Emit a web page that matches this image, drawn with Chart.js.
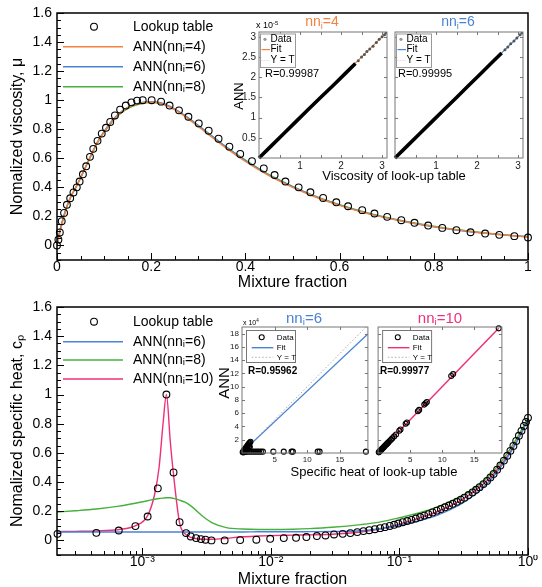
<!DOCTYPE html>
<html>
<head>
<meta charset="utf-8">
<script src="https://cdn.jsdelivr.net/npm/chart.js@4.4.1/dist/chart.umd.min.js"></script>
<style>
  body { margin: 0; background: #fff; }
  #page { position: relative; width: 542px; height: 587px; overflow: hidden; background: #fff;
          font-family: "Liberation Sans", Arial, sans-serif; }
  #page canvas { position: absolute; }
  .note { position: absolute; white-space: nowrap; line-height: 1; color: #000; }
  .note sub { font-size: 65%; vertical-align: -0.3em; line-height: 0; }
  .note sup { font-size: 65%; vertical-align: 0.5em; line-height: 0; }
  .c { transform: translate(-50%, -50%); }
  .l { transform: translateY(-50%); }
  .rot { transform: translate(-50%, -50%) rotate(-90deg); }
</style>
</head>
<body>
<div id="page">
  <canvas id="viscChart" width="542" height="295" style="left:0;top:0"></canvas>
  <canvas id="cpChart" width="542" height="294" style="left:0;top:295px"></canvas>
  <canvas id="viscFit4" width="166" height="163" style="left:225px;top:13px"></canvas>
  <canvas id="viscFit6" width="140" height="163" style="left:391px;top:13px"></canvas>
  <canvas id="cpFit6" width="163" height="160" style="left:210px;top:307px"></canvas>
  <canvas id="cpFit10" width="134" height="160" style="left:373px;top:307px"></canvas>

  <!-- inset annotations, top -->
  <div class="note c" style="left:322px;top:21px;font-size:14px;color:#f4823c">nn<sub>i</sub>=4</div>
  <div class="note c" style="left:458px;top:21px;font-size:14px;color:#4a83d4">nn<sub>i</sub>=6</div>
  <div class="note l" style="left:256px;top:25px;font-size:9px">x 10<sup>-5</sup></div>
  <div class="note rot" style="left:238px;top:96px;font-size:13px">ANN</div>
  <div class="note l" style="left:265px;top:73px;font-size:11px">R=0.99987</div>
  <div class="note l" style="left:398px;top:73px;font-size:11px">R=0.99995</div>
  <div class="note c" style="left:394px;top:175px;font-size:13px">Viscosity of look-up table</div>

  <!-- inset annotations, bottom -->
  <div class="note c" style="left:304px;top:317px;font-size:15px;color:#4a83d4">nn<sub>i</sub>=6</div>
  <div class="note c" style="left:440px;top:317px;font-size:15px;color:#ef2f78">nn<sub>i</sub>=10</div>
  <div class="note l" style="left:243px;top:322px;font-size:7px">x 10<sup>4</sup></div>
  <div class="note rot" style="left:223px;top:383px;font-size:15px">ANN</div>
  <div class="note l" style="left:248px;top:371px;font-size:10px;font-weight:bold">R=0.95962</div>
  <div class="note l" style="left:380px;top:371px;font-size:10px;font-weight:bold">R=0.99977</div>
  <div class="note c" style="left:374px;top:471px;font-size:13px">Specific heat of look-up table</div>
</div>

<script>
// ---------- top panel: normalized viscosity vs mixture fraction ----------
const viscLookupX = [0, 0.003, 0.006, 0.010, 0.015, 0.021, 0.028, 0.035, 0.042, 0.048, 0.055, 0.062, 0.070, 0.077,
  0.086, 0.095, 0.104, 0.113, 0.123, 0.134, 0.146, 0.158, 0.170, 0.182, 0.201, 0.221, 0.239, 0.259, 0.279, 0.301,
  0.322, 0.343, 0.366, 0.389, 0.414, 0.439, 0.462, 0.485, 0.513, 0.538, 0.565, 0.593, 0.618, 0.648, 0.674, 0.701,
  0.731, 0.759, 0.788, 0.818, 0.848, 0.878, 0.909, 0.939, 0.971, 1.0];
const viscLookupY = [0.0, 0.04, 0.09, 0.167, 0.224, 0.28, 0.325, 0.365, 0.40, 0.44, 0.49, 0.545, 0.61, 0.665,
  0.72, 0.77, 0.81, 0.85, 0.895, 0.935, 0.963, 0.985, 0.997, 1.0, 1.0, 0.99, 0.963, 0.93, 0.886, 0.84,
  0.79, 0.735, 0.68, 0.63, 0.58, 0.53, 0.485, 0.44, 0.40, 0.366, 0.327, 0.297, 0.27, 0.243, 0.22, 0.197,
  0.174, 0.156, 0.137, 0.121, 0.105, 0.091, 0.082, 0.073, 0.064, 0.055];

const viscAnnX = [0, 0.01, 0.02, 0.03, 0.04, 0.05, 0.06, 0.07, 0.08, 0.09, 0.1, 0.12, 0.14, 0.16, 0.18, 0.2, 0.22,
  0.24, 0.26, 0.28, 0.3, 0.32, 0.35, 0.4, 0.45, 0.5, 0.55, 0.6, 0.65, 0.7, 0.75, 0.8, 0.85, 0.9, 0.95, 1.0];
const viscAnn4 = [0.0, 0.14, 0.255, 0.34, 0.40, 0.465, 0.535, 0.605, 0.672, 0.732, 0.782, 0.866, 0.926, 0.962, 0.981,
  0.987, 0.978, 0.953, 0.914, 0.868, 0.818, 0.768, 0.692, 0.578, 0.48, 0.40, 0.332, 0.276, 0.228, 0.19, 0.157,
  0.13, 0.107, 0.088, 0.072, 0.058];
const viscAnn6 = [0.01, 0.15, 0.26, 0.34, 0.40, 0.465, 0.535, 0.605, 0.675, 0.735, 0.785, 0.87, 0.93, 0.966, 0.985,
  0.99, 0.982, 0.958, 0.92, 0.875, 0.826, 0.776, 0.70, 0.585, 0.485, 0.405, 0.335, 0.278, 0.229, 0.19, 0.156,
  0.128, 0.105, 0.087, 0.072, 0.06];
const viscAnn8 = [0.02, 0.15, 0.26, 0.34, 0.40, 0.465, 0.535, 0.603, 0.67, 0.73, 0.78, 0.862, 0.922, 0.958, 0.977,
  0.983, 0.976, 0.953, 0.917, 0.873, 0.825, 0.776, 0.70, 0.587, 0.487, 0.407, 0.337, 0.28, 0.232, 0.193, 0.16,
  0.132, 0.108, 0.089, 0.073, 0.06];

const viscXTicks = [0, 0.2, 0.4, 0.6, 0.8, 1];
const viscXLabels = ['0', '0.2', '0.4', '0.6', '0.8', '1'];
const normYTicks = [0, 0.2, 0.4, 0.6, 0.8, 1, 1.2, 1.4, 1.6];
const normYLabels = ['0', '0.2', '0.4', '0.6', '0.8', '1', '1.2', '1.4', '1.6'];

// ---------- bottom panel: normalized specific heat vs mixture fraction (log x) ----------
const cpLookupX = [2.19e-4, 4.39e-4, 6.56e-4, 8.84e-4, 1.10e-3, 1.32e-3, 1.54e-3, 1.75e-3, 1.95e-3, 2.19e-3,
  2.38e-3, 2.62e-3, 2.86e-3, 3.10e-3, 3.45e-3, 4.37e-3, 5.77e-3, 7.71e-3, 9.88e-3, 0.0126, 0.0157, 0.0189,
  0.0228, 0.0266, 0.031, 0.0362, 0.0415, 0.047, 0.0525, 0.0583, 0.0644, 0.0707, 0.077, 0.084, 0.091, 0.098,
  0.106, 0.115, 0.124, 0.134, 0.145, 0.156, 0.168, 0.181, 0.195, 0.21, 0.226, 0.243, 0.26, 0.28, 0.3, 0.32,
  0.345, 0.37, 0.395, 0.42, 0.45, 0.48, 0.51, 0.54, 0.575, 0.61, 0.65, 0.69, 0.73, 0.77, 0.81, 0.85, 0.89,
  0.93, 0.965, 1.0];
const cpLookupY = [0.045, 0.052, 0.068, 0.098, 0.164, 0.357, 1.0, 0.466, 0.125, 0.05,
  0.027, 0.016, 0.009, 0.005, 0.0, 0.0, 0.002, 0.005, 0.011, 0.016, 0.018, 0.023,
  0.03, 0.034, 0.041, 0.045, 0.05, 0.057, 0.064, 0.07, 0.077, 0.084, 0.091, 0.099, 0.107, 0.116,
  0.125, 0.133, 0.141, 0.15, 0.16, 0.17, 0.18, 0.192, 0.204, 0.215, 0.227, 0.239, 0.251, 0.265, 0.279, 0.293,
  0.311, 0.329, 0.347, 0.365, 0.386, 0.408, 0.432, 0.456, 0.485, 0.513, 0.547, 0.58, 0.614, 0.648, 0.682, 0.717,
  0.751, 0.785, 0.812, 0.84];

const cpAnnX = [2.17e-4, 3e-4, 4.4e-4, 6.6e-4, 8.8e-4, 1.1e-3, 1.25e-3, 1.35e-3, 1.45e-3, 1.54e-3, 1.65e-3,
  1.75e-3, 1.95e-3, 2.15e-3, 2.4e-3, 3e-3, 3.5e-3, 4.5e-3, 6e-3, 8e-3, 0.01, 0.015, 0.02, 0.03, 0.05, 0.07,
  0.1, 0.15, 0.2, 0.3, 0.4, 0.5, 0.6, 0.7, 0.8, 0.9, 1.0];
const cpAnn6 = [0.058, 0.058, 0.058, 0.058, 0.058, 0.058, 0.058, 0.058, 0.058, 0.058, 0.058,
  0.058, 0.058, 0.058, 0.058, 0.058, 0.058, 0.058, 0.058, 0.059, 0.059, 0.059, 0.06, 0.061, 0.066, 0.08,
  0.104, 0.14, 0.175, 0.248, 0.325, 0.405, 0.49, 0.575, 0.66, 0.745, 0.83];
const cpAnn8 = [0.195, 0.203, 0.215, 0.235, 0.255, 0.272, 0.282, 0.287, 0.29, 0.292, 0.292,
  0.288, 0.276, 0.262, 0.235, 0.16, 0.12, 0.088, 0.078, 0.075, 0.075, 0.077, 0.081, 0.09, 0.108, 0.125,
  0.155, 0.195, 0.232, 0.3, 0.37, 0.445, 0.525, 0.605, 0.685, 0.765, 0.84];
const cpAnn10 = [0.06, 0.062, 0.065, 0.075, 0.1, 0.17, 0.32, 0.5, 0.8, 1.0, 0.68,
  0.45, 0.12, 0.045, 0.02, 0.008, 0.008, 0.015, 0.025, 0.03, 0.033, 0.036, 0.038, 0.042, 0.058, 0.078,
  0.112, 0.16, 0.2, 0.275, 0.35, 0.425, 0.505, 0.585, 0.665, 0.745, 0.83];

const cpXMin = 2.17e-4;
const cpXTicks = [1e-3, 1e-2, 1e-1, 1];
const cpXLabels = ['10\u207B\u00B3', '10\u207B\u00B2', '10\u207B\u00B9', '10\u2070'];

// ---------- top insets: ANN vs look-up viscosity (x 1e-5) ----------
const viscBand4T = [0, 0.3, 0.6, 0.9, 1.2, 1.5, 1.8, 2.1, 2.35];
const viscBand4A = [0, 0.3, 0.6, 0.9, 1.2, 1.5, 1.79, 2.09, 2.34];
const viscDots4T = [2.42, 2.5, 2.57, 2.63, 2.7, 2.78, 2.86, 2.93, 3.0, 3.06, 3.1];
const viscDots4A = [2.41, 2.5, 2.56, 2.64, 2.7, 2.77, 2.86, 2.94, 3.0, 3.05, 3.1];
const viscBand6T = [0, 0.3, 0.6, 0.9, 1.2, 1.5, 1.8, 2.1, 2.4, 2.6];
const viscBand6A = [0, 0.3, 0.6, 0.9, 1.2, 1.5, 1.8, 2.1, 2.4, 2.6];
const viscDots6T = [2.68, 2.75, 2.82, 2.9, 2.97, 3.05, 3.1];
const viscDots6A = [2.68, 2.75, 2.83, 2.9, 2.97, 3.05, 3.1];
const viscFitT = [0, 3.12];
const viscFitA = [0, 3.12];
const viscFitXTicks = [0.5, 1, 1.5, 2, 2.5, 3];
const viscFitXLabels = ['', '1', '', '2', '', '3'];
const viscFitYTicks = [0.5, 1, 1.5, 2, 2.5, 3];
const viscFitYLabels = ['0.5', '1', '1.5', '2', '2.5', '3'];

// ---------- bottom insets: ANN vs look-up specific heat (x 1e4) ----------
const cpFit6T = [0.1, 0.2, 0.3, 0.4, 0.5, 0.6, 0.7, 0.8, 0.9, 1.0, 1.1, 1.2, 1.3, 0.3, 0.6, 0.9, 1.2, 0.5, 0.8, 1.1,
  0.2, 0.5, 0.8, 1.1, 1.4, 1.7, 2.0, 2.3, 2.6, 2.9, 3.2, 4.8, 6.4, 7.6, 7.8, 11.6, 11.9, 19.0];
const cpFit6A = [0.1, 0.25, 0.4, 0.5, 0.65, 0.8, 0.9, 1.05, 1.2, 1.3, 1.45, 1.55, 1.7, 0.1, 0.3, 0.6, 0.9, 0.45, 0.7, 1.0,
  0.15, 0.15, 0.2, 0.2, 0.2, 0.2, 0.2, 0.2, 0.2, 0.2, 0.2, 0.2, 0.2, 0.2, 0.2, 0.2, 0.2, 0.2];
const cpLine6T = [0, 19.3];
const cpLine6A = [0.1, 17.95];
const cpFit10T = [0.1, 0.2, 0.3, 0.4, 0.5, 0.6, 0.7, 0.8, 0.9, 1.0, 1.15, 1.3, 1.45, 1.6, 1.8, 2.0, 2.2, 2.5, 2.8,
  3.3, 3.5, 4.3, 4.5, 6.2, 6.4, 7.2, 7.4, 7.6, 11.4, 11.7, 18.8];
const cpFit10A = [0.1, 0.2, 0.3, 0.4, 0.5, 0.6, 0.7, 0.8, 0.9, 1.0, 1.15, 1.3, 1.45, 1.6, 1.8, 2.0, 2.2, 2.5, 2.8,
  3.35, 3.55, 4.4, 4.6, 6.3, 6.5, 7.3, 7.5, 7.7, 11.6, 11.9, 18.8];
const cpLine10T = [0, 18.8];
const cpLine10A = [0, 18.8];
const cpDiagT = [0, 19.3];
const cpDiagA = [0, 19.3];
const cpFitXTicks = [5, 10, 15];
const cpFitXLabels = ['5', '10', '15'];
const cpFitYTicks = [2, 4, 6, 8, 10, 12, 14, 16, 18];
const cpFitYLabels = ['2', '4', '6', '8', '10', '12', '14', '16', '18'];

const ORANGE = '#f4823c';
const BLUE = '#4a83d4';
const GREEN = '#45b03b';
const PINK = '#ef2f78';
const FONT = '"Liberation Sans", Arial, sans-serif';

const pts = (xs, ys) => xs.map((x, i) => ({ x: x, y: ys[i] }));

// minor tick positions (not data, just axis decoration)
function minorSteps(from, to, step, majors) {
  const out = [];
  for (let v = from; v <= to + 1e-9; v += step) {
    const r = Math.round(v * 1000) / 1000;
    if (!majors.some(m => Math.abs(m - r) < 1e-9)) out.push(r);
  }
  return out;
}
const viscXMinor = minorSteps(0, 1, 0.05, viscXTicks);
const normYMinor = minorSteps(-0.1, 1.6, 0.05, normYTicks);
const cpXMinor = [];
[-4, -3, -2, -1].forEach(e => {
  for (let k = 2; k <= 9; k++) {
    const v = k * Math.pow(10, e);
    if (v > cpXMin && v < 1) cpXMinor.push(v);
  }
});

// box around the plot area with inward tick marks
const framePlugin = {
  id: 'frame',
  beforeDraw(chart, args, o) {
    if (!o.fill) return;
    const a = chart.chartArea, ctx = chart.ctx;
    ctx.save();
    ctx.fillStyle = o.fill;
    ctx.fillRect(a.left, a.top, a.right - a.left, a.bottom - a.top);
    ctx.restore();
  },
  afterDraw(chart, args, o) {
    const a = chart.chartArea, ctx = chart.ctx;
    const xs = chart.scales.x, ys = chart.scales.y;
    ctx.save();
    ctx.strokeStyle = o.color;
    ctx.lineWidth = o.tickWidth;
    ctx.beginPath();
    const xMark = (v, len) => {
      const p = Math.round(xs.getPixelForValue(v)) + 0.5;
      ctx.moveTo(p, a.bottom); ctx.lineTo(p, a.bottom - len);
      if (o.mirror) { ctx.moveTo(p, a.top); ctx.lineTo(p, a.top + len); }
    };
    const yMark = (v, len) => {
      const p = Math.round(ys.getPixelForValue(v)) + 0.5;
      ctx.moveTo(a.left, p); ctx.lineTo(a.left + len, p);
      if (o.mirror) { ctx.moveTo(a.right, p); ctx.lineTo(a.right - len, p); }
    };
    xs.ticks.forEach(t => xMark(t.value, o.major));
    ys.ticks.forEach(t => yMark(t.value, o.major));
    (o.xMinor || []).forEach(v => xMark(v, o.minor));
    (o.yMinor || []).forEach(v => yMark(v, o.minor));
    ctx.stroke();
    ctx.lineWidth = o.width;
    ctx.strokeRect(a.left, a.top, a.right - a.left, a.bottom - a.top);
    ctx.restore();
  }
};

// hand-placed legend, offsets are relative to the plot area
const keyPlugin = {
  id: 'key',
  afterDraw(chart, args, o) {
    const a = chart.chartArea, ctx = chart.ctx;
    ctx.save();
    if (o.box) {
      ctx.fillStyle = '#fff';
      ctx.strokeStyle = o.boxColor;
      ctx.lineWidth = 1;
      ctx.fillRect(a.left + o.box[0], a.top + o.box[1], o.box[2], o.box[3]);
      ctx.strokeRect(a.left + o.box[0] + 0.5, a.top + o.box[1] + 0.5, o.box[2], o.box[3]);
    }
    ctx.font = o.font;
    ctx.textBaseline = 'middle';
    let row = 0;
    chart.data.datasets.forEach(ds => {
      if (ds.inKey === false) return;
      const y = a.top + o.rows[row++];
      if (ds.keyDot) {
        ctx.fillStyle = ds.keyDot;
        ctx.beginPath();
        ctx.arc(a.left + o.marker, y, 1.6, 0, Math.PI * 2);
        ctx.fill();
      } else if (ds.showLine) {
        ctx.strokeStyle = ds.borderColor;
        ctx.lineWidth = ds.borderWidth;
        ctx.setLineDash(ds.borderDash || []);
        ctx.beginPath();
        ctx.moveTo(a.left + o.line[0], y);
        ctx.lineTo(a.left + o.line[1], y);
        ctx.stroke();
        ctx.setLineDash([]);
      } else {
        ctx.strokeStyle = ds.pointBorderColor;
        ctx.lineWidth = ds.pointBorderWidth;
        ctx.beginPath();
        ctx.arc(a.left + o.marker, y, ds.pointRadius, 0, Math.PI * 2);
        ctx.stroke();
      }
      ctx.fillStyle = '#000';
      ctx.fillText(ds.label, a.left + o.text, y);
    });
    ctx.restore();
  }
};

// pin the plot area to exact canvas pixels
function area(W, H, l, t, r, b) {
  return {
    padding: { left: 0, top: t, right: W - r, bottom: 0 },
    xFit: s => { s.height = H - b; },
    yFit: s => { s.width = l; }
  };
}

function tickSetter(values) {
  return axis => { axis.ticks = values.map(v => ({ value: v })); };
}

const noGrid = { display: false, drawTicks: false };

function mainChart(id, W, H, box, xType, xMin, xTicks, xLabels, xMinor, yTitle, titlePad, datasets, keyRows) {
  return new Chart(document.getElementById(id), {
    type: 'scatter',
    data: { datasets: datasets },
    options: {
      responsive: false,
      animation: false,
      devicePixelRatio: 1,
      layout: { padding: box.padding },
      scales: {
        x: {
          type: xType, min: xMin, max: 1,
          afterFit: box.xFit,
          afterBuildTicks: tickSetter(xTicks),
          grid: noGrid, border: { display: false },
          ticks: {
            autoSkip: false, maxRotation: 0, padding: 0, color: '#000',
            font: { family: FONT, size: 14, lineHeight: 1 },
            callback: (v, i) => xLabels[i]
          },
          title: {
            display: true, text: 'Mixture fraction', color: '#000',
            font: { family: FONT, size: 16 }, padding: { top: 0, bottom: titlePad }
          }
        },
        y: {
          type: 'linear', min: -0.1, max: 1.6,
          afterFit: box.yFit,
          afterBuildTicks: tickSetter(normYTicks),
          grid: noGrid, border: { display: false },
          ticks: {
            padding: 5, color: '#000',
            font: { family: FONT, size: 14, lineHeight: 1 },
            callback: (v, i) => normYLabels[i]
          },
          title: {
            display: true, text: yTitle, color: '#000',
            font: { family: FONT, size: 16 }, padding: { top: 8, bottom: 0 }
          }
        }
      },
      plugins: {
        legend: { display: false },
        tooltip: { enabled: false },
        frame: { color: '#000', width: 1.5, tickWidth: 1, major: 7, minor: 4, xMinor: xMinor, yMinor: normYMinor },
        key: { font: '14px ' + FONT, rows: keyRows, marker: 37, line: [6, 66], text: 76 }
      }
    },
    plugins: [framePlugin, keyPlugin]
  });
}

function lookupSet(xs, ys) {
  return {
    label: 'Lookup table', data: pts(xs, ys), showLine: false,
    pointStyle: 'circle', pointRadius: 3.4, pointBorderWidth: 1.1,
    pointBorderColor: '#000', pointBackgroundColor: 'rgba(0,0,0,0)', clip: false
  };
}

function annSet(label, xs, ys, color) {
  return {
    label: label, data: pts(xs, ys), showLine: true, borderColor: color, borderWidth: 1.4,
    pointRadius: 0, cubicInterpolationMode: 'monotone'
  };
}

mainChart('viscChart', 542, 295, area(542, 295, 57, 13, 528, 260), 'linear', 0,
  viscXTicks, viscXLabels, viscXMinor, 'Nomalized viscosity, \u03BC', 2.4, [
    lookupSet(viscLookupX, viscLookupY),
    annSet('ANN(nn\u1D62=4)', viscAnnX, viscAnn4, ORANGE),
    annSet('ANN(nn\u1D62=6)', viscAnnX, viscAnn6, BLUE),
    annSet('ANN(nn\u1D62=8)', viscAnnX, viscAnn8, GREEN)
  ], [13.7, 33.7, 53.7, 73.7]);

mainChart('cpChart', 542, 294, area(542, 294, 57, 12, 528, 260), 'logarithmic', cpXMin,
  cpXTicks, cpXLabels, cpXMinor, 'Nomalized specific heat, c\u209A', 0, [
    lookupSet(cpLookupX, cpLookupY),
    annSet('ANN(nn\u1D62=6)', cpAnnX, cpAnn6, BLUE),
    annSet('ANN(nn\u1D62=8)', cpAnnX, cpAnn8, GREEN),
    annSet('ANN(nn\u1D62=10)', cpAnnX, cpAnn10, PINK)
  ], [14.7, 34.7, 53, 72]);

// small regression insets
function insetChart(id, W, H, box, lim, xTicks, xLabels, yTicks, yLabels, showY, fontSize, datasets, key) {
  return new Chart(document.getElementById(id), {
    type: 'scatter',
    data: { datasets: datasets },
    options: {
      responsive: false,
      animation: false,
      devicePixelRatio: 1,
      layout: { padding: box.padding },
      scales: {
        x: {
          type: 'linear', min: 0, max: lim[0],
          afterFit: box.xFit,
          afterBuildTicks: tickSetter(xTicks),
          grid: noGrid, border: { display: false },
          ticks: {
            autoSkip: false, maxRotation: 0, padding: 3, color: '#222',
            font: { family: FONT, size: fontSize, lineHeight: 1 },
            callback: (v, i) => xLabels[i]
          }
        },
        y: {
          type: 'linear', min: 0, max: lim[1],
          afterFit: box.yFit,
          afterBuildTicks: tickSetter(yTicks),
          grid: noGrid, border: { display: false },
          ticks: {
            display: showY, padding: 3, color: '#222',
            font: { family: FONT, size: fontSize, lineHeight: 1 },
            callback: (v, i) => yLabels[i]
          }
        }
      },
      plugins: {
        legend: { display: false },
        tooltip: { enabled: false },
        frame: { fill: '#fff', color: '#777', width: 1, tickWidth: 1, major: 3, minor: 0, mirror: true },
        key: key
      }
    },
    plugins: [framePlugin, keyPlugin]
  });
}

function viscSets(bandT, bandA, dotT, dotA, color) {
  return [
    { label: 'Data', data: pts(bandT, bandA), showLine: true, borderColor: '#000', borderWidth: 3.6,
      pointRadius: 0, keyDot: '#999', clip: 2 },
    { label: 'Data', data: pts(dotT, dotA), showLine: false, pointRadius: 1.5, pointBorderWidth: 0,
      pointBackgroundColor: '#555', inKey: false },
    { label: 'Fit', data: pts(viscFitT, viscFitA), showLine: true, borderColor: color, borderWidth: 1.2, pointRadius: 0 },
    { label: 'Y = T', data: pts(viscFitT, viscFitA), showLine: true, borderColor: '#bbb', borderWidth: 0.6,
      borderDash: [1, 1], pointRadius: 0 }
  ];
}

const viscKey = { font: '10px ' + FONT, box: [1, 1.5, 35, 33.5], boxColor: '#999',
  rows: [7.3, 17.6, 28.3], marker: 6, line: [2.5, 11], text: 11.5 };

insetChart('viscFit4', 166, 163, area(166, 163, 34, 19, 164, 145), [3.12, 3.12],
  viscFitXTicks, viscFitXLabels, viscFitYTicks, viscFitYLabels, true, 10,
  viscSets(viscBand4T, viscBand4A, viscDots4T, viscDots4A, ORANGE), viscKey);

insetChart('viscFit6', 140, 163, area(140, 163, 2, 19, 132, 145), [3.12, 3.12],
  viscFitXTicks, viscFitXLabels, viscFitYTicks, viscFitYLabels, false, 10,
  viscSets(viscBand6T, viscBand6A, viscDots6T, viscDots6A, BLUE), viscKey);

function cpSets(dataT, dataA, lineT, lineA, color) {
  return [
    { label: 'Data', data: pts(dataT, dataA), showLine: false, pointStyle: 'circle', pointRadius: 2.5,
      pointBorderWidth: 1.1, pointBorderColor: '#000', pointBackgroundColor: 'rgba(0,0,0,0)', clip: false },
    { label: 'Fit', data: pts(lineT, lineA), showLine: true, borderColor: color, borderWidth: 1.4, pointRadius: 0 },
    { label: 'Y = T', data: pts(cpDiagT, cpDiagA), showLine: true, borderColor: '#999', borderWidth: 0.8,
      borderDash: [1.5, 2], pointRadius: 0 }
  ];
}

const cpKey = { font: '8px ' + FONT, box: [4, 3, 49, 32], boxColor: '#777',
  rows: [10.3, 20.7, 30.3], marker: 19.7, line: [9.7, 31.3], text: 34.7 };

insetChart('cpFit6', 163, 160, area(163, 160, 32, 20, 160, 146), [19.3, 19],
  cpFitXTicks, cpFitXLabels, cpFitYTicks, cpFitYLabels, true, 8,
  cpSets(cpFit6T, cpFit6A, cpLine6T, cpLine6A, BLUE), cpKey);

insetChart('cpFit10', 134, 160, area(134, 160, 2, 20, 130, 146), [19.3, 19],
  cpFitXTicks, cpFitXLabels, cpFitYTicks, cpFitYLabels, false, 8,
  cpSets(cpFit10T, cpFit10A, cpLine10T, cpLine10A, PINK), cpKey);
</script>
</body>
</html>
